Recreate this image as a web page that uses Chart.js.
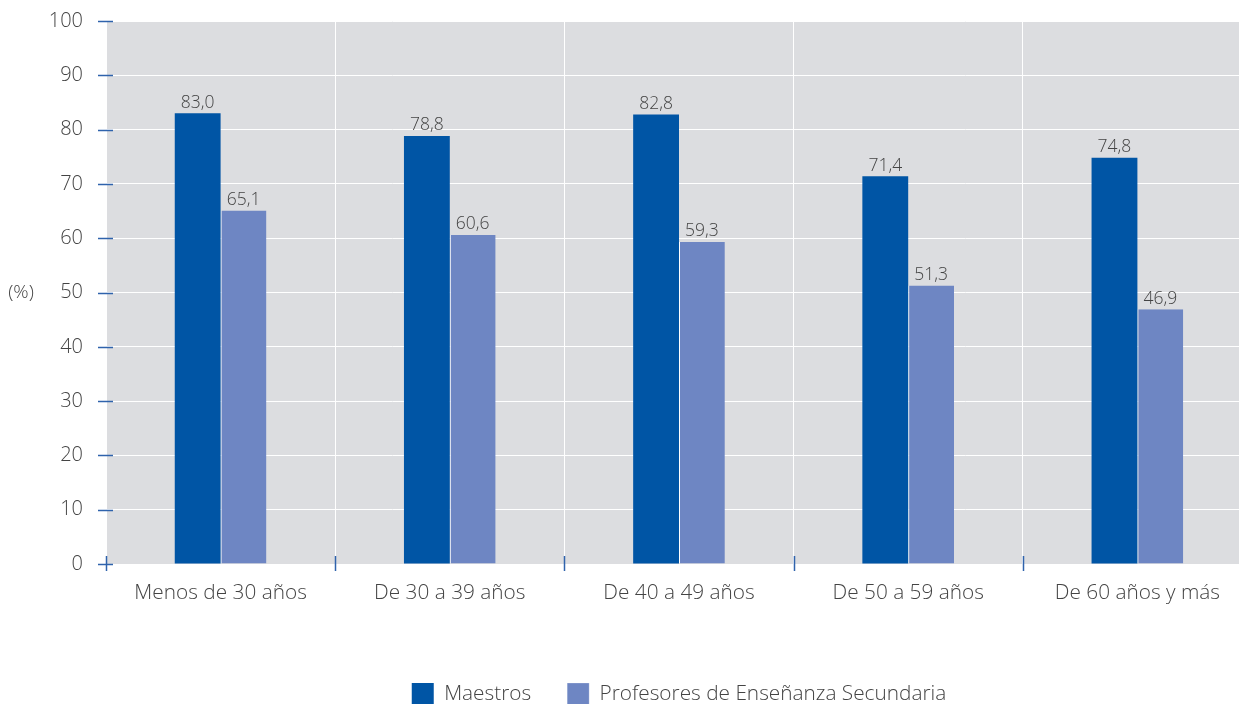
<!DOCTYPE html>
<html>
<head>
<meta charset="utf-8">
<script src="https://cdn.jsdelivr.net/npm/chart.js@4.4.1/dist/chart.umd.min.js"></script>
<style>
  html, body { margin: 0; padding: 0; background: #fff; overflow: hidden; }
  #wrap { width: 1252px; height: 715px; position: relative; }
</style>
</head>
<body>
<div id="wrap"><canvas id="chart"></canvas></div>
<script>
const categories = ['Menos de 30 años', 'De 30 a 39 años', 'De 40 a 49 años', 'De 50 a 59 años', 'De 60 años y más'];
const maestros = [83.0, 78.8, 82.8, 71.4, 74.8];
const profesores = [65.1, 60.6, 59.3, 51.3, 46.9];
const yTicks = [0, 10, 20, 30, 40, 50, 60, 70, 80, 90, 100];

const FONT = '"Open Sans", sans-serif';
const WEIGHT = 300;
const TEXT = '#444444';
const TICK = '#2f63ac';

// grey plot background, blue tick marks, axis title and value labels
const decor = {
    id: 'decor',
    beforeDraw(chart) {
        const { ctx, chartArea: a } = chart;
        ctx.save();
        ctx.fillStyle = '#dcdde0';
        ctx.fillRect(a.left, a.top, a.right - a.left, a.bottom - a.top);
        ctx.restore();
    },
    afterDatasetsDraw(chart) {
        const { ctx, chartArea: a, scales } = chart;
        const x = scales.x, y = scales.y;
        ctx.save();
        ctx.strokeStyle = TICK;
        ctx.lineWidth = 1.5;
        yTicks.forEach(v => {
            const py = Math.round(y.getPixelForValue(v)) + 0.5;
            ctx.beginPath();
            ctx.moveTo(a.left - 8, py);
            ctx.lineTo(a.left + 7, py);
            ctx.stroke();
        });
        const step = (a.right - a.left) / categories.length;
        for (let i = 0; i < categories.length; i++) {
            const px = Math.round(x.getPixelForValue(i) - step / 2) + 0.5;
            ctx.beginPath();
            ctx.moveTo(px, a.bottom - 8);
            ctx.lineTo(px, a.bottom + 7);
            ctx.stroke();
        }
        // value labels
        ctx.fillStyle = TEXT;
        ctx.font = WEIGHT + ' 17.5px ' + FONT;
        ctx.textAlign = 'center';
        ctx.textBaseline = 'bottom';
        chart.data.datasets.forEach((ds, di) => {
            chart.getDatasetMeta(di).data.forEach((bar, i) => {
                ctx.fillText(ds.data[i].toFixed(1).replace('.', ','), bar.x, bar.y - 2);
            });
        });
        // axis title
        ctx.font = WEIGHT + ' 19px ' + FONT;
        ctx.textBaseline = 'middle';
        ctx.fillText('(%)', 21, (a.top + a.bottom) / 2);
        ctx.restore();
    }
};

new Chart(document.getElementById('chart'), {
    type: 'bar',
    data: {
        labels: categories,
        datasets: [
            { label: 'Maestros', data: maestros, backgroundColor: '#0055a5',
              categoryPercentage: 0.4, barPercentage: 1.0 },
            { label: 'Profesores de Enseñanza Secundaria', data: profesores, backgroundColor: '#6e86c3',
              borderColor: '#ffffff', borderWidth: { left: 1, right: 0, top: 0, bottom: 0 }, borderSkipped: false,
              categoryPercentage: 0.4, barPercentage: 1.0 }
        ]
    },
    options: {
        responsive: true,
        maintainAspectRatio: false,
        animation: false,
        layout: { padding: 0 },
        plugins: {
            tooltip: { enabled: false },
            legend: {
                position: 'bottom',
                fullSize: false,
                labels: {
                    boxWidth: 22, boxHeight: 22, padding: 36,
                    color: TEXT, font: { family: FONT, size: 20.8, weight: WEIGHT }
                }
            }
        },
        scales: {
            x: {
                offset: true,
                grid: { offset: true, color: '#ffffff', lineWidth: 1, drawTicks: false },
                border: { display: false },
                ticks: { color: TEXT, font: { family: FONT, size: 20.8, weight: WEIGHT }, padding: 17, maxRotation: 0 },
                afterFit: s => { s.height = 83; }
            },
            y: {
                min: 0, max: 100,
                afterBuildTicks: s => { s.ticks = yTicks.map(v => ({ value: v })); },
                grid: { color: '#ffffff', lineWidth: 1, drawTicks: false },
                border: { display: false },
                ticks: { color: TEXT, font: { family: FONT, size: 20, weight: WEIGHT }, padding: 23 },
                afterFit: s => { s.width = 106; s.paddingTop = 21; s.paddingBottom = 0; }
            }
        }
    },
    plugins: [decor]
});
</script>
</body>
</html>
